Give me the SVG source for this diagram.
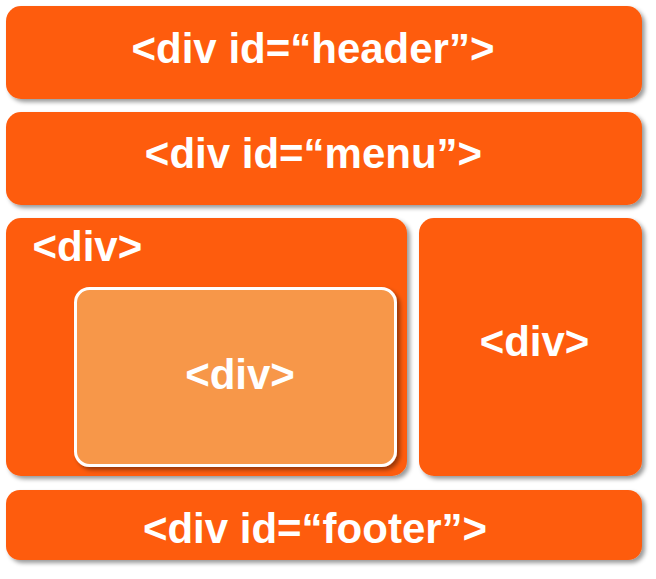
<svg xmlns="http://www.w3.org/2000/svg" width="656" height="579" viewBox="0 0 656 579">
<style>
.box{fill:#FE5B0C;filter:url(#sh)}
.inner{fill:#F7974A;stroke:#FFFFFF;stroke-width:3;filter:url(#sh)}
.t{font-family:"Liberation Sans",Arial,sans-serif;font-weight:bold;font-size:42px;fill:#FFFFFF}
</style>
<defs>
<filter id="sh" x="-10%" y="-10%" width="120%" height="130%">
<feDropShadow dx="3" dy="3" stdDeviation="2" flood-color="#000000" flood-opacity="0.4"/>
</filter>
</defs>
<rect width="656" height="579" fill="#FFFFFF"/>
<g id="header">
<rect class="box" x="6" y="6" width="636" height="93" rx="15"/>
<text class="t" x="313" y="63" text-anchor="middle">&lt;div id=“header”&gt;</text>
</g>
<g id="menu">
<rect class="box" x="6" y="112" width="636" height="93" rx="15"/>
<text class="t" x="313.5" y="168" text-anchor="middle">&lt;div id=“menu”&gt;</text>
</g>
<g id="content">
<rect class="box" x="6" y="218" width="401" height="258" rx="15"/>
<text class="t" x="32.5" y="261">&lt;div&gt;</text>
</g>
<g id="inner">
<rect class="inner" x="75.5" y="288.5" width="320" height="177" rx="14"/>
<text class="t" x="240" y="389" text-anchor="middle">&lt;div&gt;</text>
</g>
<g id="sidebar">
<rect class="box" x="419" y="218" width="223" height="258" rx="15"/>
<text class="t" x="534.5" y="356" text-anchor="middle">&lt;div&gt;</text>
</g>
<g id="footer">
<rect class="box" x="6" y="490" width="636" height="70" rx="14"/>
<text class="t" x="315" y="543" text-anchor="middle">&lt;div id=“footer”&gt;</text>
</g>
<g id="connectors"/>
</svg>
